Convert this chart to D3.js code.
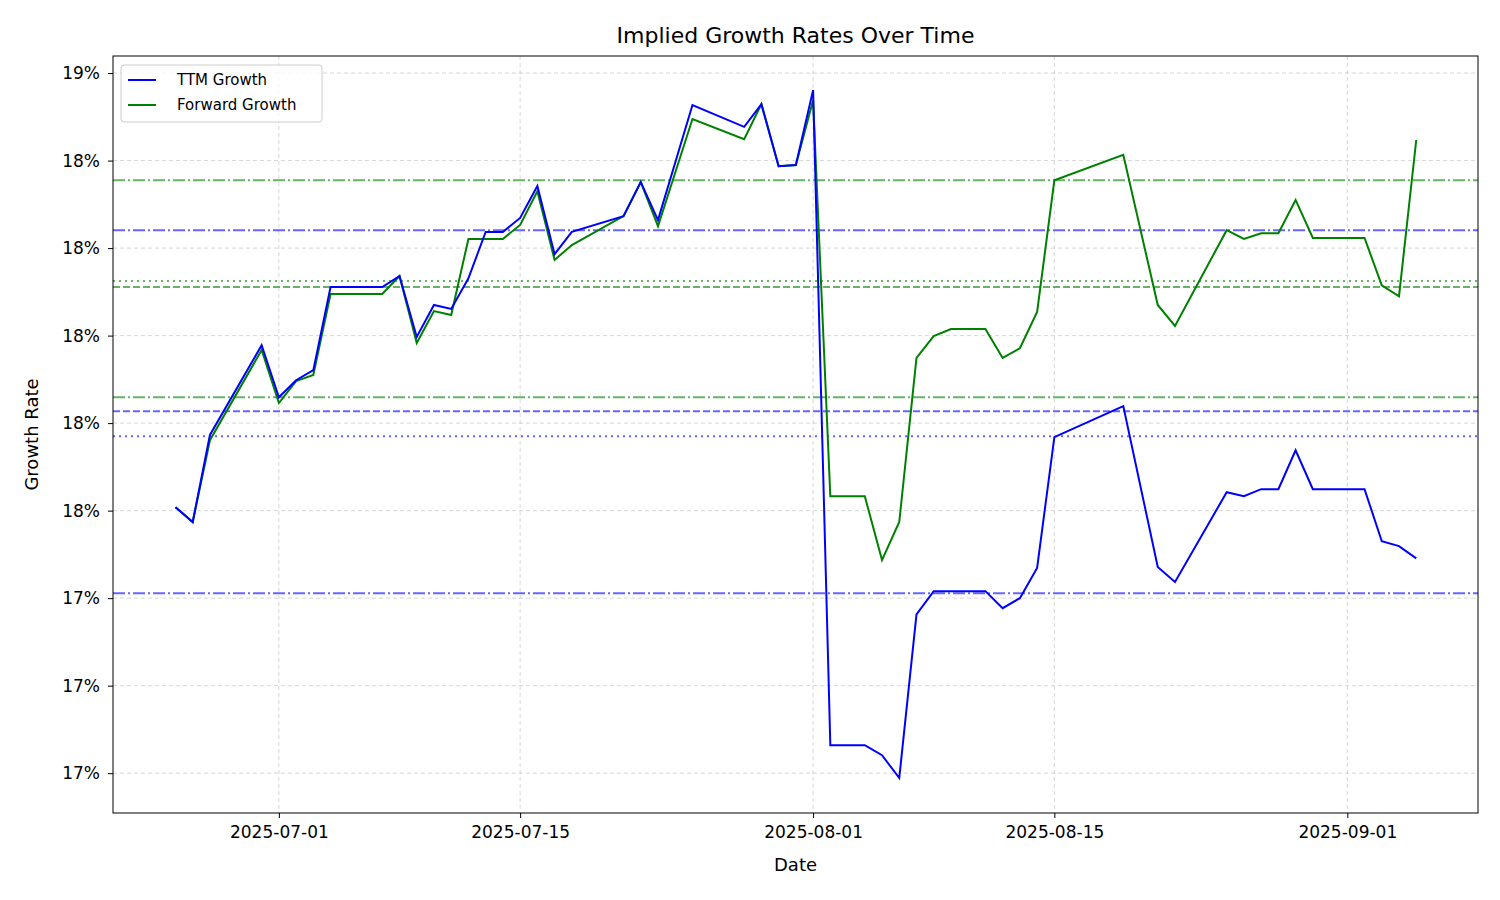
<!DOCTYPE html>
<html><head><meta charset="utf-8">
<script src="https://cdn.jsdelivr.net/npm/d3@7"></script>
<style>body{margin:0;background:#fff;font-family:"DejaVu Sans",sans-serif;}</style>
</head><body><svg id="c" width="1500" height="900"></svg>
<script>
const dates = ["2025-06-25","2025-06-26","2025-06-27","2025-06-30","2025-07-01","2025-07-02","2025-07-03","2025-07-04","2025-07-07","2025-07-08","2025-07-09","2025-07-10","2025-07-11","2025-07-12","2025-07-13","2025-07-14","2025-07-15","2025-07-16","2025-07-17","2025-07-18","2025-07-21","2025-07-22","2025-07-23","2025-07-25","2025-07-28","2025-07-29","2025-07-30","2025-07-31","2025-08-01","2025-08-02","2025-08-04","2025-08-05","2025-08-06","2025-08-07","2025-08-08","2025-08-09","2025-08-11","2025-08-12","2025-08-13","2025-08-14","2025-08-15","2025-08-19","2025-08-21","2025-08-22","2025-08-25","2025-08-26","2025-08-27","2025-08-28","2025-08-29","2025-08-30","2025-09-02","2025-09-03","2025-09-04","2025-09-05"];
const ttmGrowth = [17.608,17.574,17.773,17.978,17.859,17.898,17.921,18.111,18.111,18.136,17.997,18.070,18.061,18.131,18.237,18.237,18.269,18.342,18.186,18.237,18.273,18.351,18.264,18.527,18.477,18.529,18.387,18.390,18.561,17.064,17.064,17.041,16.989,17.363,17.416,17.416,17.416,17.377,17.400,17.469,17.768,17.839,17.471,17.437,17.642,17.633,17.649,17.649,17.738,17.649,17.649,17.530,17.519,17.491];
const fwdGrowth = [17.608,17.574,17.761,17.967,17.846,17.896,17.910,18.095,18.095,18.136,17.983,18.056,18.047,18.221,18.221,18.221,18.253,18.330,18.173,18.207,18.273,18.351,18.250,18.495,18.449,18.529,18.387,18.390,18.538,17.633,17.633,17.487,17.574,17.949,17.999,18.015,18.015,17.949,17.971,18.054,18.355,18.413,18.070,18.022,18.241,18.221,18.234,18.234,18.310,18.223,18.223,18.115,18.090,18.447];
const hLines = [
 {v:18.355,c:"green",d:"12,3,2,3"},
 {v:18.241,c:"blue",d:"12,3,2,3"},
 {v:18.125,c:"green",d:"2,4"},
 {v:18.111,c:"green",d:"7,3"},
 {v:17.859,c:"green",d:"12,3,2,3"},
 {v:17.827,c:"blue",d:"7,3"},
 {v:17.770,c:"blue",d:"2,4"},
 {v:17.411,c:"blue",d:"12,3,2,3"}
];
const yTicks = [17.0,17.2,17.4,17.6,17.8,18.0,18.2,18.4,18.6];
const yTickLabels = ["17%","17%","17%","18%","18%","18%","18%","18%","19%"];
const xTicks = ["2025-07-01","2025-07-15","2025-08-01","2025-08-15","2025-09-01"];

const svg = d3.select("#c");
const L=113,R=1478,T=56,B=813;
const p = d3.timeParse("%Y-%m-%d");
const x = d3.scaleTime().domain([new Date(2025,5,21,9), new Date(2025,8,8,14)]).range([L,R]);
const y = d3.scaleLinear().domain([16.909,18.639]).range([B,T]);

svg.append("g").selectAll("line").data(xTicks).join("line")
 .attr("x1",d=>x(p(d))).attr("x2",d=>x(p(d))).attr("y1",T).attr("y2",B)
 .attr("stroke","#b0b0b0").attr("stroke-opacity",0.5).attr("stroke-dasharray","4,3");
svg.append("g").selectAll("line").data(yTicks).join("line")
 .attr("x1",L).attr("x2",R).attr("y1",d=>y(d)).attr("y2",d=>y(d))
 .attr("stroke","#b0b0b0").attr("stroke-opacity",0.5).attr("stroke-dasharray","4,3");

svg.append("g").selectAll("line").data(hLines).join("line")
 .attr("x1",L).attr("x2",R).attr("y1",d=>y(d.v)).attr("y2",d=>y(d.v))
 .attr("stroke",d=>d.c).attr("stroke-opacity",0.6).attr("stroke-width",2).attr("stroke-dasharray",d=>d.d);

const line = vals => d3.line().x((d,i)=>x(p(dates[i]))).y(d=>y(d))(vals);
svg.append("path").attr("d",line(fwdGrowth)).attr("fill","none").attr("stroke","green").attr("stroke-width",2);
svg.append("path").attr("d",line(ttmGrowth)).attr("fill","none").attr("stroke","blue").attr("stroke-width",2);

svg.append("rect").attr("x",L).attr("y",T).attr("width",R-L).attr("height",B-T).attr("fill","none").attr("stroke","#000");

const xa = svg.append("g").attr("transform",`translate(0,${B})`)
 .call(d3.axisBottom(x).tickValues(xTicks.map(p)).tickFormat(d3.timeFormat("%Y-%m-%d")).tickSize(5).tickPadding(8).tickSizeOuter(0));
const ya = svg.append("g").attr("transform",`translate(${L},0)`)
 .call(d3.axisLeft(y).tickValues(yTicks).tickFormat((d,i)=>yTickLabels[i]).tickSize(5).tickPadding(8).tickSizeOuter(0));
[xa,ya].forEach(a=>{a.attr("font-size",17).attr("font-family","DejaVu Sans");a.select(".domain").remove();a.selectAll("text").style("font-size","17px").attr("fill","#000");});

svg.append("text").attr("x",(L+R)/2).attr("y",43).attr("text-anchor","middle").style("font-size","22px").text("Implied Growth Rates Over Time");
svg.append("text").attr("x",(L+R)/2).attr("y",871).attr("text-anchor","middle").style("font-size","18px").text("Date");
svg.append("text").attr("transform",`translate(38,${(T+B)/2}) rotate(-90)`).attr("text-anchor","middle").style("font-size","18px").text("Growth Rate");

const lg = svg.append("g").attr("transform","translate(121,65)");
lg.append("rect").attr("width",201).attr("height",57).attr("rx",3).attr("fill","#fff").attr("fill-opacity",0.8).attr("stroke","#ccc");
[["TTM Growth","blue"],["Forward Growth","green"]].forEach((d,i)=>{
 lg.append("line").attr("x1",7).attr("x2",35).attr("y1",15+i*25).attr("y2",15+i*25).attr("stroke",d[1]).attr("stroke-width",2);
 lg.append("text").attr("x",56).attr("y",20+i*25).style("font-size","15px").text(d[0]);
});
</script></body></html>
